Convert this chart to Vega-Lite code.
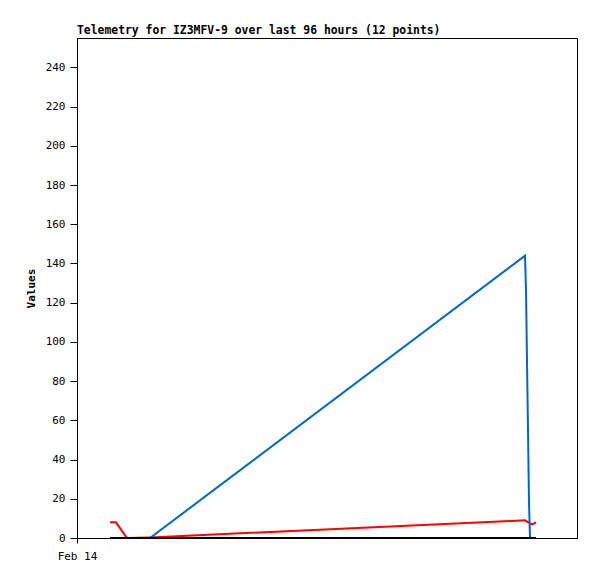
{
  "$schema": "https://vega.github.io/schema/vega-lite/v6.json",
  "width": 500,
  "height": 500,
  "autosize": "none",
  "padding": {"left": 77, "top": 38, "right": 20, "bottom": 41},
  "background": "white",
  "title": {"text": "Telemetry for IZ3MFV-9 over last 96 hours (12 points)", "anchor": "start", "frame": "group", "font": "DejaVu Sans Mono", "fontSize": 11.4, "fontWeight": "bold", "color": "black", "offset": 2},
  "config": {
    "view": {"stroke": "black", "strokeWidth": 1},
    "axis": {"grid": false, "domainColor": "black", "tickColor": "black", "labelColor": "black", "titleColor": "black", "labelFont": "DejaVu Sans Mono", "titleFont": "DejaVu Sans Mono", "labelFontSize": 11, "titleFontSize": 11}
  },
  "data": {"values": [
    {"t": "2024-02-14T06:20", "s": "red", "v": 8},
    {"t": "2024-02-14T07:29", "s": "red", "v": 8},
    {"t": "2024-02-14T09:36", "s": "red", "v": 0},
    {"t": "2024-02-14T14:01", "s": "red", "v": 0.3},
    {"t": "2024-02-17T14:01", "s": "red", "v": 9},
    {"t": "2024-02-17T14:13", "s": "red", "v": 8.8},
    {"t": "2024-02-17T14:24", "s": "red", "v": 8.3},
    {"t": "2024-02-17T14:36", "s": "red", "v": 8},
    {"t": "2024-02-17T14:47", "s": "red", "v": 8},
    {"t": "2024-02-17T14:59", "s": "red", "v": 7.5},
    {"t": "2024-02-17T15:22", "s": "red", "v": 6.8},
    {"t": "2024-02-17T16:08", "s": "red", "v": 8},
    {"t": "2024-02-14T06:20", "s": "blue", "v": 0},
    {"t": "2024-02-14T07:29", "s": "blue", "v": 0},
    {"t": "2024-02-14T09:36", "s": "blue", "v": 0},
    {"t": "2024-02-14T14:01", "s": "blue", "v": 0},
    {"t": "2024-02-17T14:01", "s": "blue", "v": 144},
    {"t": "2024-02-17T14:13", "s": "blue", "v": 126},
    {"t": "2024-02-17T14:24", "s": "blue", "v": 90},
    {"t": "2024-02-17T14:36", "s": "blue", "v": 54},
    {"t": "2024-02-17T14:47", "s": "blue", "v": 18},
    {"t": "2024-02-17T14:59", "s": "blue", "v": 0},
    {"t": "2024-02-17T15:22", "s": "blue", "v": 0},
    {"t": "2024-02-17T16:08", "s": "blue", "v": 0},
    {"t": "2024-02-14T06:20", "s": "black", "v": 0},
    {"t": "2024-02-14T07:29", "s": "black", "v": 0},
    {"t": "2024-02-14T09:36", "s": "black", "v": 0},
    {"t": "2024-02-14T14:01", "s": "black", "v": 0},
    {"t": "2024-02-17T14:01", "s": "black", "v": 0},
    {"t": "2024-02-17T14:13", "s": "black", "v": 0},
    {"t": "2024-02-17T14:24", "s": "black", "v": 0},
    {"t": "2024-02-17T14:36", "s": "black", "v": 0},
    {"t": "2024-02-17T14:47", "s": "black", "v": 0},
    {"t": "2024-02-17T14:59", "s": "black", "v": 0},
    {"t": "2024-02-17T15:22", "s": "black", "v": 0},
    {"t": "2024-02-17T16:08", "s": "black", "v": 0}
  ]},
  "encoding": {
    "x": {"field": "t", "type": "temporal", "title": null,
      "scale": {"domain": ["2024-02-14T00:00", "2024-02-18T00:00"]},
      "axis": {"values": ["2024-02-14T00:00"], "format": "%b %d", "tickSize": 5, "labelPadding": 7, "labelAlign": "center", "labelFlush": false}},
    "y": {"field": "v", "type": "quantitative", "title": "Values",
      "scale": {"domain": [0, 255], "nice": false},
      "axis": {"values": [0, 20, 40, 60, 80, 100, 120, 140, 160, 180, 200, 220, 240], "tickSize": 7, "labelPadding": 5, "titlePadding": 9, "titleFontWeight": "bold"}}
  },
  "layer": [
    {"transform": [{"filter": "datum.s === 'red'"}], "mark": {"type": "line", "color": "#ff0000", "strokeWidth": 2}},
    {"transform": [{"filter": "datum.s === 'blue'"}], "mark": {"type": "line", "color": "#0066cc", "strokeWidth": 2}},
    {"transform": [{"filter": "datum.s === 'black'"}], "mark": {"type": "line", "color": "#000000", "strokeWidth": 2}}
  ]
}
